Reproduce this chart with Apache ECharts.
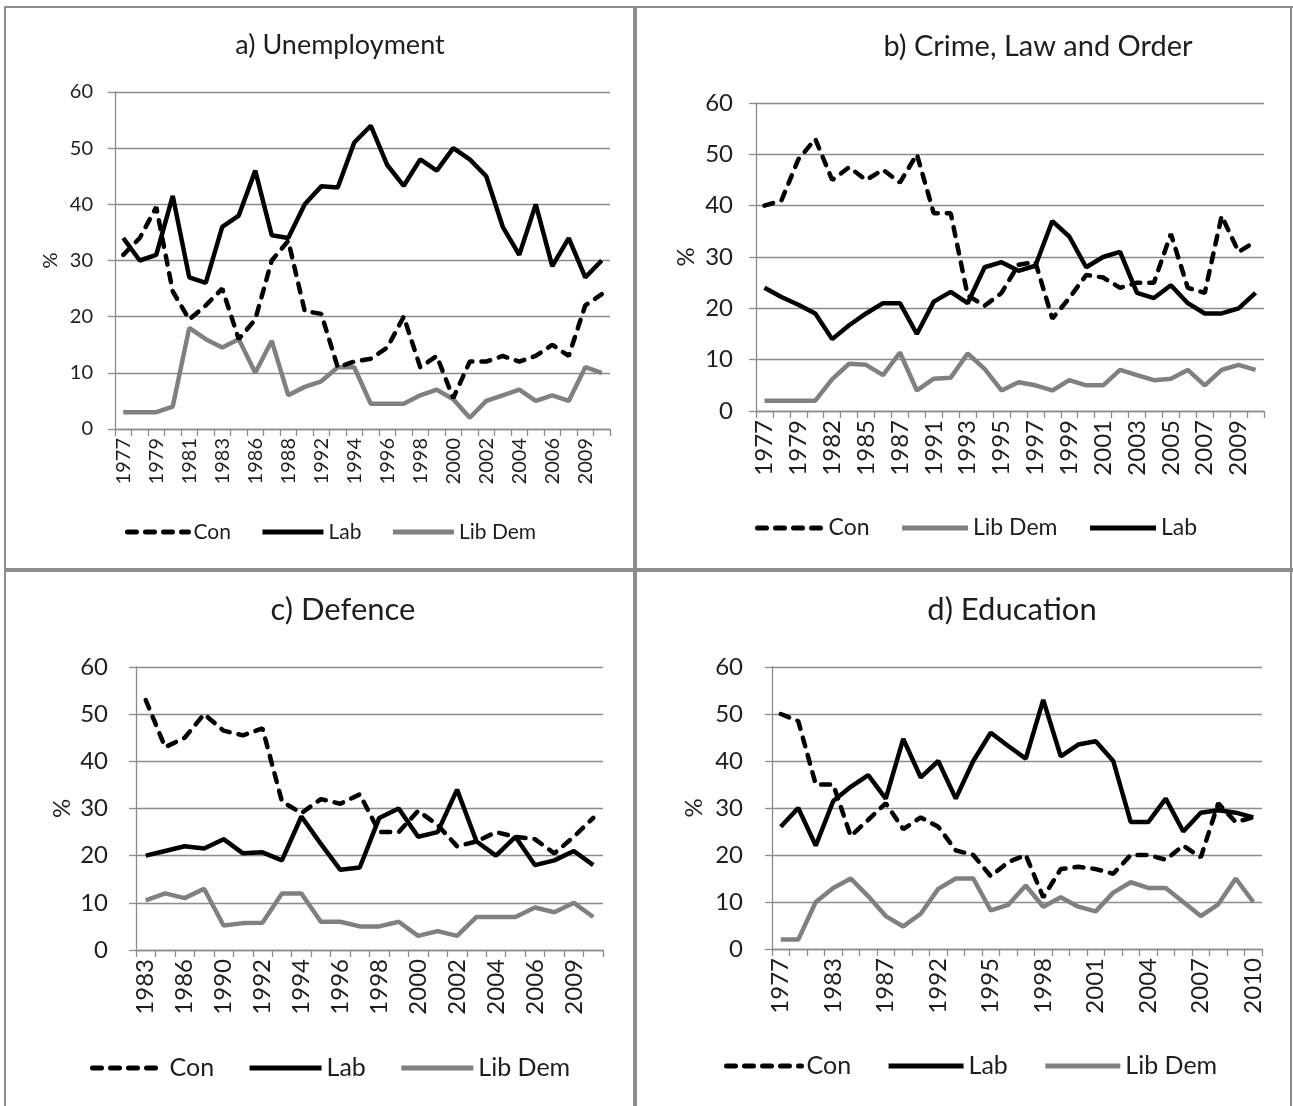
<!DOCTYPE html>
<html><head><meta charset="utf-8">
<script src="https://cdn.jsdelivr.net/npm/echarts@6/dist/echarts.min.js"></script>
<style>html,body{margin:0;padding:0;background:#fff}#c{width:1293px;height:1106px}</style>
</head><body><div id="c"></div><script>
// ---- categories ----
const yearsA = ['1977','1978','1979','1980','1981','1982','1983','1984','1986','1987','1988','1990','1992','1993','1994','1995','1996','1997','1998','1999','2000','2001','2002','2003','2004','2005','2006','2007','2009','2010'];
const yearsB = ['1977','1978','1979','1981','1982','1984','1985','1986','1987','1989','1991','1992','1993','1994','1995','1996','1997','1998','1999','2000','2001','2002','2003','2004','2005','2006','2007','2008','2009','2010'];
const yearsC = ['1983','1985','1986','1988','1990','1991','1992','1993','1994','1995','1996','1997','1998','1999','2000','2001','2002','2003','2004','2005','2006','2008','2009','2010'];
const yearsD = ['1977','1979','1981','1983','1985','1986','1987','1989','1991','1992','1993','1994','1995','1996','1997','1998','1999','2000','2001','2002','2003','2004','2005','2006','2007','2008','2009','2010'];
// ---- a) Unemployment ----
const conA = [31,34,39.5,24.5,19.5,22,25,16,19.5,30,33.5,21,20.5,11,12,12.5,14.5,20,11,13,5.5,12,12,13,12,13,15,13,22,24];
const labA = [34,30,31,41.5,27,26,36,38,46,34.5,34,40,43.2,43,51,54,47,43.3,48,46,50,48,45,36,31,40,29,34,27,30];
const ldA  = [3,3,3,4,18,16,14.5,16,10,15.7,6,7.5,8.5,11,11,4.5,4.5,4.5,6,7,5.3,2,5,6,7,5,6,5,11,10];
// ---- b) Crime, Law and Order ----
const conB = [40,41,49,53,45,47.5,45,47,44.5,50,38.5,38.5,22.5,20.5,23,28.5,29,18,22,26.5,26,24,25,25,34.5,24,23,38,31,33];
const labB = [24,22.2,20.7,19,14,16.7,19,21,21,15,21.3,23.2,21,28,29,27.3,28.3,37,34,28,30,31,23,22,24.5,21,19,19,20,23];
const ldB  = [2,2,2,2,6.2,9.2,9,7,11.4,4,6.3,6.5,11.2,8.2,4,5.6,5,4,6,5,5,8,7,6,6.3,8,5,8,9,8];
// ---- c) Defence ----
const conC = [53,43,45,50,46.5,45.5,47,31.5,29,32,31,33,25,25,29.5,26.5,22,23,25,24,23.5,20.5,24,28];
const labC = [20,21,22,21.5,23.5,20.5,20.7,19,28.3,22.5,17,17.5,28,30,24,25,34,23,20,24,18,19,21,18];
const ldC  = [10.5,12,11,13,5.2,5.7,5.8,12,12,6,6,5,5,6,3,4,3,7,7,7,9,8,10,7];
// ---- d) Education ----
const conD = [50,48.5,35,35,24,27.5,31,25.5,28,26,21,20,15.5,18.5,20,11,17,17.5,17,16,20,20,19,22,19.5,31,27,28];
const labD = [26,30,22,31.5,34.5,37,32,44.7,36.5,40,32,40,46,43.2,40.5,53,41,43.5,44.2,40,27,27,32,25,29,29.5,29,28];
const ldD  = [2,2,10,13,15,11.2,7,4.8,7.5,12.8,15,15,8.2,9.4,13.5,9,11,9,8,12,14.2,13,13,10,7,9.5,15,10];
const yTicks = {min:0, max:60, interval:10};

const FONT = 'Lato, "Open Sans", sans-serif';
const GRAY = '#8c8c8c';
const TXT = '#1e1e1e';

const panels = [
  {title:'a) Unemployment', tx:340, ty:45, tfs:27, grid:{left:115, top:92, width:495, height:337}, fs:20, ymargin:22, ngap:54,
   cats:yearsA, con:conA, lab:labA, ld:ldA, order:['Con','Lab','Lib Dem'], lint:1,
   leg:{left:125, cy:532, iw:61, gap:29, fs:21}},
  {title:'b) Crime, Law and Order', tx:1038, ty:47, tfs:29, grid:{left:756, top:103, width:508, height:308}, fs:24, ymargin:23, ngap:58,
   cats:yearsB, con:conB, lab:labB, ld:ldB, order:['Con','Lib Dem','Lab'], lint:1,
   leg:{left:755, cy:528, iw:66, gap:30, fs:23}},
  {title:'c) Defence', tx:343, ty:610, tfs:31, grid:{left:136, top:667, width:467, height:283}, fs:24, ymargin:28, ngap:62,
   cats:yearsC, con:conC, lab:labC, ld:ldC, order:['Con','Lab','Lib Dem'], lint:1,
   leg:{left:90, cy:1068, iw:72, gap:33, fs:25}},
  {title:'d) Education', tx:1012, ty:610, tfs:31, grid:{left:772, top:667, width:490, height:282}, fs:24, ymargin:29, ngap:66,
   cats:yearsD, con:conD, lab:labD, ld:ldD, order:['Con','Lab','Lib Dem'], lint:2,
   leg:{left:724, cy:1066, iw:75, gap:35, fs:25}}
];

const option = {animation:false, backgroundColor:'#fff', grid:[], xAxis:[], yAxis:[], series:[], legend:[], graphic:[]};

panels.forEach((p, i) => {
  option.grid.push(Object.assign({containLabel:false}, p.grid));
  option.xAxis.push({
    type:'category', gridIndex:i, data:p.cats, boundaryGap:true,
    axisLine:{show:true, lineStyle:{color:GRAY, width:1.3}},
    axisTick:{show:true, interval:0, length:7, lineStyle:{color:GRAY, width:1.3}},
    axisLabel:{interval:p.lint, rotate:90, fontSize:p.fs, fontFamily:FONT, color:TXT, margin:9},
    splitLine:{show:false}
  });
  option.yAxis.push({
    type:'value', gridIndex:i, min:yTicks.min, max:yTicks.max, interval:yTicks.interval,
    name:'%', nameLocation:'middle', nameGap:p.ngap, nameRotate:90,
    nameTextStyle:{fontSize:p.fs, fontFamily:FONT, color:TXT},
    axisLine:{show:true, lineStyle:{color:GRAY, width:1.3}},
    axisTick:{show:true, length:7, lineStyle:{color:GRAY, width:1.3}},
    axisLabel:{fontSize:p.fs, fontFamily:FONT, color:TXT, margin:p.ymargin},
    splitLine:{show:true, lineStyle:{color:GRAY, width:1.3}}
  });
  const base = {type:'line', xAxisIndex:i, yAxisIndex:i, symbol:'none', showSymbol:false, z:3};
  const mk = {
    'Con': Object.assign({}, base, {name:'Con', data:p.con, lineStyle:{color:'#000', width:4.5, type:[9,9], cap:'round'}, itemStyle:{color:'#000'}, z:4}),
    'Lab': Object.assign({}, base, {name:'Lab', data:p.lab, lineStyle:{color:'#000', width:4.5}, itemStyle:{color:'#000'}}),
    'Lib Dem': Object.assign({}, base, {name:'Lib Dem', data:p.ld, lineStyle:{color:'#808080', width:4.5}, itemStyle:{color:'#808080'}, z:2})
  };
  ['Lib Dem','Lab','Con'].forEach(n => option.series.push(mk[n]));
  option.legend.push({
    data:p.order, left:p.leg.left, top:p.leg.cy - 15, orient:'horizontal', padding:0,
    itemWidth:p.leg.iw, itemHeight:14, itemGap:p.leg.gap, selectedMode:false,
    itemStyle:{opacity:0},
    lineStyle:{width:5},
    textStyle:{fontSize:p.leg.fs, fontFamily:FONT, color:TXT, lineHeight:30}
  });
  option.graphic.push({type:'text', x:p.tx, y:p.ty, silent:true,
    style:{text:p.title, fontSize:p.tfs, fontFamily:FONT, fill:TXT, align:'center', verticalAlign:'middle'}});
});

// panel frames
const frame = [
  {x:4, y:6, w:1289, h:2},
  {x:4, y:6, w:2, h:1100},
  {x:633, y:6, w:4, h:1100},
  {x:4, y:568, w:1289, h:4},
  {x:1290, y:6, w:2, h:1100}
];
frame.forEach(f => option.graphic.push({type:'rect', silent:true, shape:{x:f.x, y:f.y, width:f.w, height:f.h}, style:{fill:GRAY}}));

const chart = echarts.init(document.getElementById('c'), null, {renderer:'canvas'});
chart.setOption(option);
</script></body></html>
